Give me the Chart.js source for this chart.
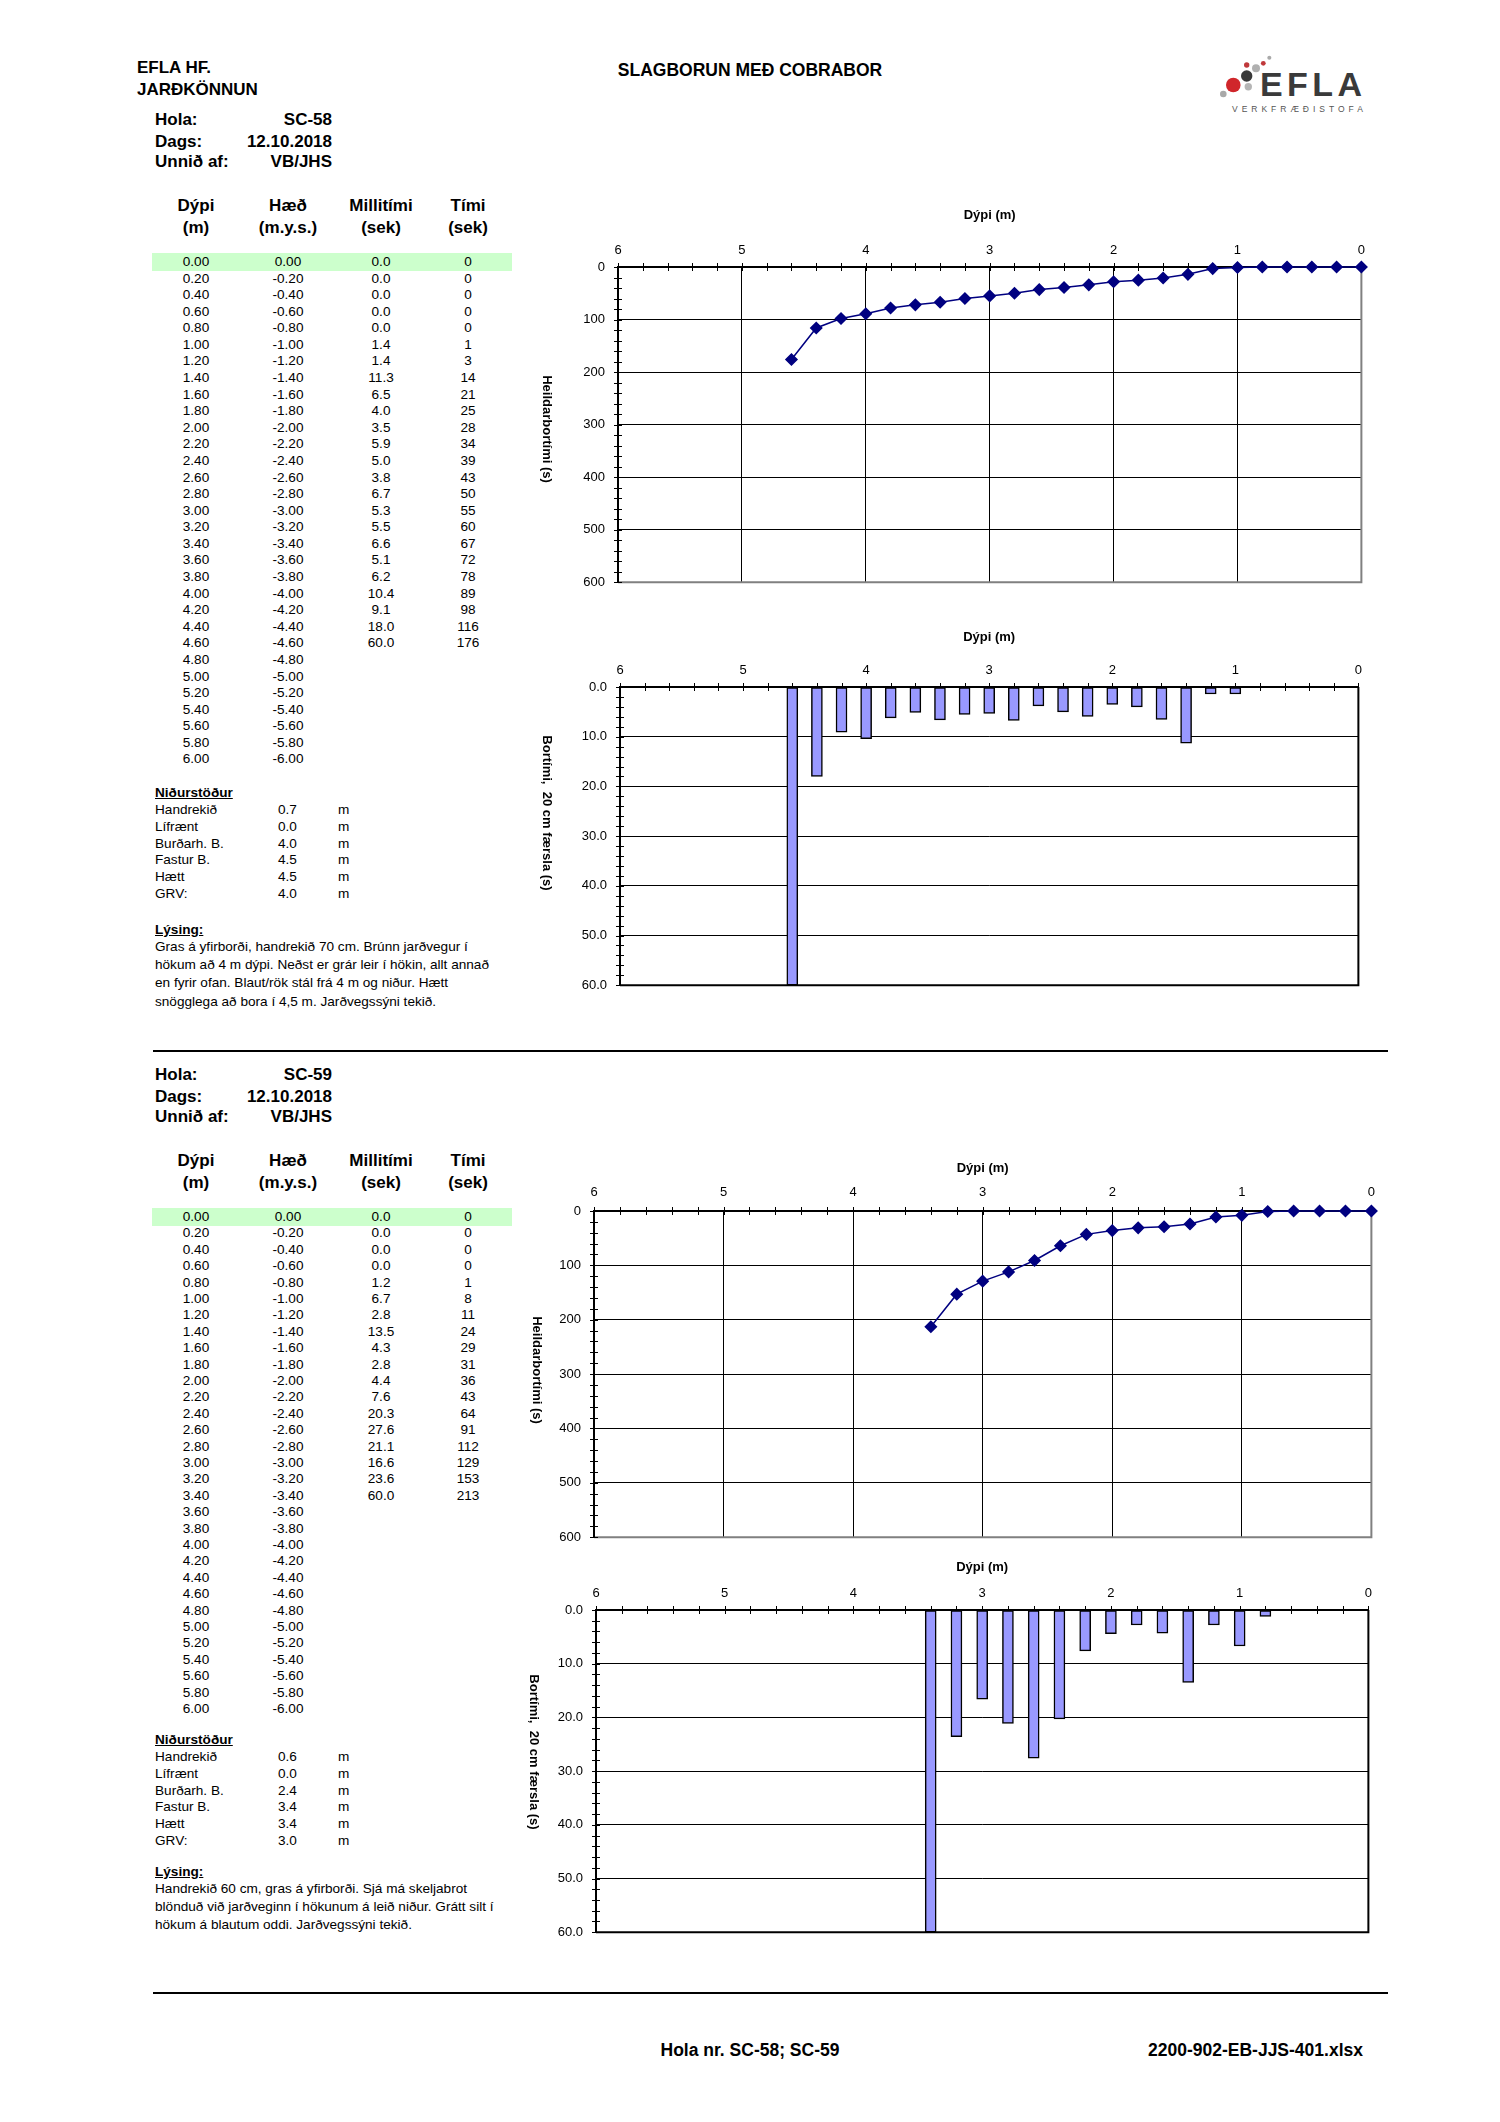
<!DOCTYPE html>
<html lang="is">
<head>
<meta charset="utf-8">
<title>Slagborun með cobrabor</title>
<script src="https://cdn.jsdelivr.net/npm/chart.js@4.4.1/dist/chart.umd.min.js"></script>
<style>
  html, body { margin: 0; padding: 0; background: #fff; }
  body { width: 1500px; height: 2122px; position: relative; overflow: hidden;
         font-family: "Liberation Sans", Arial, sans-serif; color: #000; }
  .t { position: absolute; white-space: pre; line-height: 20px; font-size: 13.6px; }
  .h { font-size: 17px; font-weight: bold; }
  .f { font-size: 17.5px; font-weight: bold; }
  .b { font-weight: bold; }
  .u { font-weight: bold; text-decoration: underline; }
  .band { position: absolute; background: #ccffcc; }
  .rule { position: absolute; height: 1.5px; background: #000; }
  canvas { position: absolute; }
</style>
</head>
<body>
<svg style="position:absolute;left:0;top:0" width="1500" height="130">
  <circle cx="1269.3" cy="57.7" r="2" fill="#a9a9a9"/>
  <circle cx="1263.3" cy="63.3" r="2.4" fill="#c0393b"/>
  <circle cx="1246.7" cy="65" r="2.7" fill="#c0393b"/>
  <circle cx="1256" cy="68.3" r="4" fill="#b0b0b0"/>
  <circle cx="1246.7" cy="76" r="5.7" fill="#3a3a3a"/>
  <circle cx="1233.3" cy="85" r="7.3" fill="#d0262b"/>
  <circle cx="1248.3" cy="86.7" r="3.7" fill="#b5b5b5"/>
  <circle cx="1223.3" cy="94" r="3.3" fill="#a9a9a9"/>
  <text x="1260" y="96" font-family="Liberation Sans, Arial" font-weight="bold" font-size="34" fill="#3a3a3a" textLength="102" lengthAdjust="spacing">EFLA</text>
  <text x="1232" y="112" font-family="Liberation Sans, Arial" font-size="8.5" fill="#555" textLength="131" lengthAdjust="spacing">VERKFRÆÐISTOFA</text>
</svg>
<script>
// ---- Gögn (lesin af myndinni) ----
const dypi = ["0.00","0.20","0.40","0.60","0.80","1.00","1.20","1.40","1.60","1.80",
  "2.00","2.20","2.40","2.60","2.80","3.00","3.20","3.40","3.60","3.80",
  "4.00","4.20","4.40","4.60","4.80","5.00","5.20","5.40","5.60","5.80","6.00"];
const haed = ["0.00","-0.20","-0.40","-0.60","-0.80","-1.00","-1.20","-1.40","-1.60","-1.80",
  "-2.00","-2.20","-2.40","-2.60","-2.80","-3.00","-3.20","-3.40","-3.60","-3.80",
  "-4.00","-4.20","-4.40","-4.60","-4.80","-5.00","-5.20","-5.40","-5.60","-5.80","-6.00"];

const sc58Millitimi = [0.0, 0.0, 0.0, 0.0, 0.0, 1.4, 1.4, 11.3, 6.5, 4.0, 3.5, 5.9,
  5.0, 3.8, 6.7, 5.3, 5.5, 6.6, 5.1, 6.2, 10.4, 9.1, 18.0, 60.0];
const sc58Timi = [0, 0, 0, 0, 0, 1, 3, 14, 21, 25, 28, 34, 39, 43, 50, 55, 60, 67,
  72, 78, 89, 98, 116, 176];

const sc59Millitimi = [0.0, 0.0, 0.0, 0.0, 1.2, 6.7, 2.8, 13.5, 4.3, 2.8, 4.4, 7.6,
  20.3, 27.6, 21.1, 16.6, 23.6, 60.0];
const sc59Timi = [0, 0, 0, 0, 1, 8, 11, 24, 29, 31, 36, 43, 64, 91, 112, 129, 153, 213];

const nidurLabels = ["Handrekið", "Lífrænt", "Burðarh. B.", "Fastur B.", "Hætt", "GRV:"];
const sc58Nidur = ["0.7", "0.0", "4.0", "4.5", "4.5", "4.0"];
const sc59Nidur = ["0.6", "0.0", "2.4", "3.4", "3.4", "3.0"];

const sc58Lysing = [
  "Gras á yfirborði, handrekið 70 cm. Brúnn jarðvegur í",
  "hökum að 4 m dýpi. Neðst er grár leir í hökin, allt annað",
  "en fyrir ofan. Blaut/rök stál frá 4 m og niður. Hætt",
  "snögglega að bora í 4,5 m. Jarðvegssýni tekið."
];
const sc59Lysing = [
  "Handrekið 60 cm, gras á yfirborði. Sjá má skeljabrot",
  "blönduð við jarðveginn í hökunum á leið niður. Grátt silt í",
  "hökum á blautum oddi. Jarðvegssýni tekið."
];

// ---- Texti ----
function txt(x, y, s, align, cls) {
  const d = document.createElement('div');
  d.className = 't ' + (cls || '');
  d.textContent = s;
  d.style.left = x + 'px';
  d.style.top = (y - 10) + 'px';
  if (align === 'center') d.style.transform = 'translateX(-50%)';
  if (align === 'right') d.style.transform = 'translateX(-100%)';
  document.body.appendChild(d);
  return d;
}
function vtxt(cx, cy, s) {
  const d = document.createElement('div');
  d.className = 't b';
  d.style.fontSize = '13px';
  d.textContent = s;
  d.style.left = cx + 'px';
  d.style.top = cy + 'px';
  d.style.transform = 'translate(-50%,-50%) rotate(90deg)';
  document.body.appendChild(d);
}
function rule(y) {
  const d = document.createElement('div');
  d.className = 'rule';
  d.style.left = '153px'; d.style.width = '1235px'; d.style.top = y + 'px';
  document.body.appendChild(d);
}

txt(137, 68, 'EFLA HF.', 'left', 'h');
txt(137, 90, 'JARÐKÖNNUN', 'left', 'h');
txt(750, 70, 'SLAGBORUN MEÐ COBRABOR', 'center', 'f');

function buildHole(name, pos, millitimi, timi, nidur, lysing) {
  txt(155, pos.hola, 'Hola:', 'left', 'h');
  txt(332, pos.hola, name, 'right', 'h');
  txt(155, pos.hola + 22, 'Dags:', 'left', 'h');
  txt(332, pos.hola + 22, '12.10.2018', 'right', 'h');
  txt(155, pos.hola + 42, 'Unnið af:', 'left', 'h');
  txt(332, pos.hola + 42, 'VB/JHS', 'right', 'h');

  const cols = [196, 288, 381, 468];
  [['Dýpi', '(m)'], ['Hæð', '(m.y.s.)'], ['Millitími', '(sek)'], ['Tími', '(sek)']]
    .forEach((h, i) => {
      txt(cols[i], pos.head, h[0], 'center', 'h');
      txt(cols[i], pos.head + 22, h[1], 'center', 'h');
    });

  const band = document.createElement('div');
  band.className = 'band';
  band.style.left = '152px'; band.style.width = '360px';
  band.style.top = (pos.row - 9) + 'px'; band.style.height = '18px';
  document.body.appendChild(band);

  dypi.forEach((d, i) => {
    const y = pos.row + i * pos.step;
    txt(cols[0], y, d, 'center');
    txt(cols[1], y, haed[i], 'center');
    if (i < millitimi.length) {
      txt(cols[2], y, millitimi[i].toFixed(1), 'center');
      txt(cols[3], y, String(timi[i]), 'center');
    }
  });

  txt(155, pos.nid, 'Niðurstöður', 'left', 'u');
  nidurLabels.forEach((l, i) => {
    const y = pos.nid + 17 + i * 16.8;
    txt(155, y, l, 'left');
    txt(278, y, nidur[i], 'left');
    txt(338, y, 'm', 'left');
  });

  txt(155, pos.lys, 'Lýsing:', 'left', 'u');
  lysing.forEach((l, i) => txt(155, pos.lys + 17 + i * 18.2, l, 'left'));
}

buildHole('SC-58', { hola: 120, head: 206, row: 262, step: 16.58, nid: 793, lys: 930 },
  sc58Millitimi, sc58Timi, sc58Nidur, sc58Lysing);
buildHole('SC-59', { hola: 1075, head: 1161, row: 1217, step: 16.4, nid: 1740, lys: 1872 },
  sc59Millitimi, sc59Timi, sc59Nidur, sc59Lysing);

rule(1050);
rule(1992);
txt(750, 2050, 'Hola nr. SC-58; SC-59', 'center', 'f');
txt(1363, 2050, '2200-902-EB-JJS-401.xlsx', 'right', 'f');

// ---- Gröf ----
Chart.defaults.font.family = '"Liberation Sans", Arial, sans-serif';
Chart.defaults.color = '#000';

// rammi og smástrik á ásum
const frameTicks = {
  id: 'frameTicks',
  beforeDatasetsDraw(chart, args, opts) {
    const { ctx, chartArea: a, scales: { x, y } } = chart;
    ctx.save();
    ctx.lineWidth = 2;
    ctx.strokeStyle = opts.frameColor;
    ctx.beginPath();
    ctx.moveTo(a.right, a.top); ctx.lineTo(a.right, a.bottom); ctx.lineTo(a.left, a.bottom);
    ctx.stroke();

    ctx.lineWidth = 1;
    ctx.strokeStyle = '#000';
    ctx.beginPath();
    const nx = Math.round((x.max - x.min) / opts.xStep);
    for (let i = 0; i <= nx; i++) {
      const px = Math.round(x.getPixelForValue(x.min + i * opts.xStep)) + 0.5;
      ctx.moveTo(px, a.top - 4); ctx.lineTo(px, a.top + 4);
    }
    const ny = Math.round((y.max - y.min) / opts.yStep);
    for (let i = 0; i <= ny; i++) {
      const py = Math.round(y.getPixelForValue(y.min + i * opts.yStep)) + 0.5;
      ctx.moveTo(a.left - 4, py); ctx.lineTo(a.left + 4, py);
    }
    ctx.stroke();

    ctx.lineWidth = 2;
    ctx.beginPath();
    ctx.moveTo(a.left, a.bottom); ctx.lineTo(a.left, a.top); ctx.lineTo(a.right, a.top);
    ctx.stroke();
    ctx.restore();
  }
};

function makeChart(box, kind, values, opt) {
  const c = document.createElement('canvas');
  const w = box.R - box.L + 82, h = box.B - box.T + 82;
  c.width = w; c.height = h;
  c.style.left = (box.L - 70) + 'px'; c.style.top = (box.T - 70) + 'px';
  c.style.width = w + 'px'; c.style.height = h + 'px';
  document.body.appendChild(c);

  const points = values.map((v, i) => ({ x: parseFloat(dypi[i]), y: v }));
  const isLine = kind === 'line';
  const dataset = isLine ? {
    data: points,
    showLine: true,
    borderColor: '#000080',
    borderWidth: 1.5,
    pointStyle: 'rectRot',
    pointRadius: 5.5,
    pointBackgroundColor: '#000080',
    pointBorderColor: '#000080',
    clip: false
  } : {
    data: points,
    backgroundColor: '#9999ff',
    borderColor: '#000',
    borderWidth: 1.5,
    borderSkipped: false,
    barThickness: 11,
    clip: false
  };

  return new Chart(c, {
    type: isLine ? 'scatter' : 'bar',
    data: { datasets: [dataset] },
    options: {
      responsive: false,
      animation: false,
      events: [],
      layout: { padding: { left: 0, top: 0, right: 12, bottom: 12 } },
      plugins: {
        legend: { display: false },
        tooltip: { enabled: false },
        frameTicks: { xStep: 0.2, yStep: opt.yMinor, frameColor: opt.frameColor }
      },
      scales: {
        x: {
          type: 'linear', position: 'top', reverse: true, min: 0, max: 6, offset: false,
          afterFit: s => { s.height = 70; },
          ticks: { stepSize: 1, padding: opt.tickPad, font: { size: 13 }, maxRotation: 0, autoSkip: false },
          grid: { display: isLine, color: '#000', lineWidth: 1, drawTicks: false, offset: false },
          border: { display: false },
          title: { display: true, text: 'Dýpi (m)', font: { size: 13, weight: 'bold' },
                   padding: { top: opt.titlePad, bottom: 0 } }
        },
        y: {
          type: 'linear', position: 'left', reverse: true, min: 0, max: opt.yMax,
          afterFit: s => { s.width = 70; },
          ticks: { stepSize: opt.yStep, padding: 13, font: { size: 13 },
                   callback: v => isLine ? String(v) : v.toFixed(1) },
          grid: { color: '#000', lineWidth: 1, drawTicks: false },
          border: { display: false }
        }
      }
    },
    plugins: [frameTicks]
  });
}

makeChart({ L: 618, T: 267, R: 1362, B: 591 }, 'line', sc58Timi,
  { yMax: 600, yStep: 100, yMinor: 20, tickPad: 9, titlePad: 11, frameColor: '#808080' });
makeChart({ L: 620, T: 687, R: 1359, B: 994 }, 'bar', sc58Millitimi,
  { yMax: 60, yStep: 10, yMinor: 2, tickPad: 9, titlePad: 13, frameColor: '#000' });
makeChart({ L: 594, T: 1211, R: 1374, B: 1546 }, 'line', sc59Timi,
  { yMax: 600, yStep: 100, yMinor: 20, tickPad: 11, titlePad: 20, frameColor: '#808080' });
makeChart({ L: 596, T: 1610, R: 1369, B: 1941 }, 'bar', sc59Millitimi,
  { yMax: 60, yStep: 10, yMinor: 2, tickPad: 9, titlePad: 20, frameColor: '#000' });

vtxt(547, 429, 'Heildarbortími (s)');
vtxt(547, 813, 'Bortími,  20 cm færsla (s)');
vtxt(537, 1370, 'Heildarbortími (s)');
vtxt(534, 1752, 'Bortími,  20 cm færsla (s)');
</script>
</body>
</html>
